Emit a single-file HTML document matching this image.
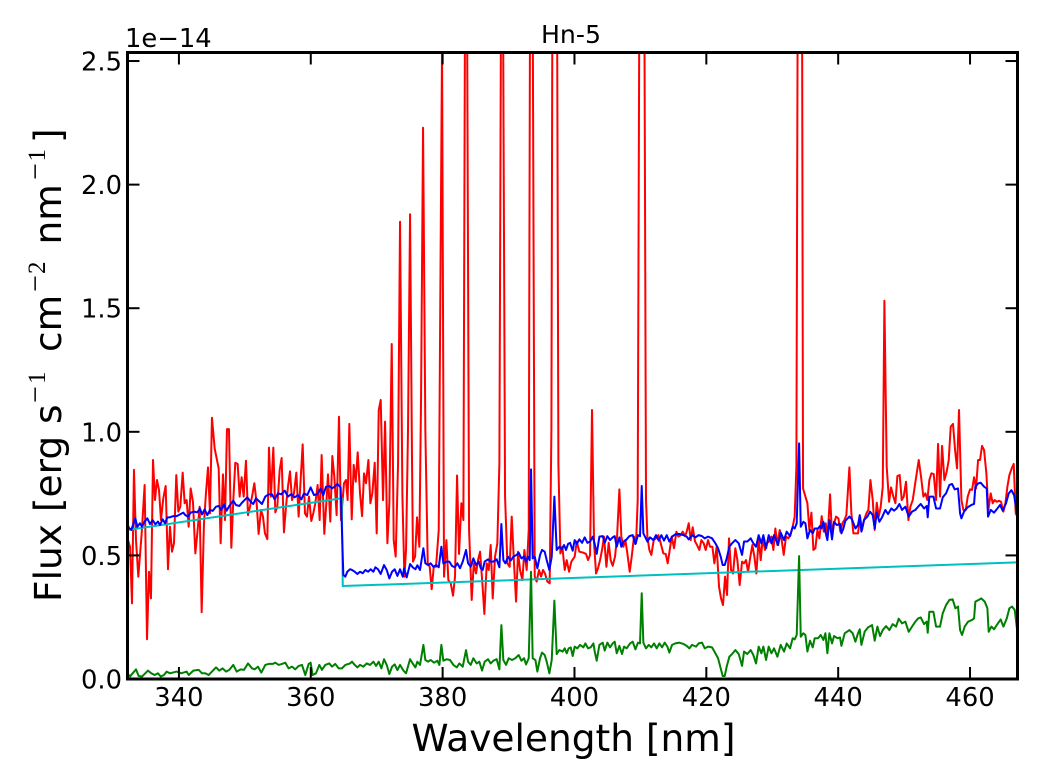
<!DOCTYPE html>
<html lang="en">
<head>
<meta charset="utf-8">
<title>Hn-5 spectrum</title>
<style>
html,body{margin:0;padding:0;background:#fff;}
svg{display:block;font-family:"DejaVu Sans","Liberation Sans",sans-serif;fill:#000;}
.sup{font-family:"Liberation Serif",serif;}
</style>
</head>
<body>
<svg id="chart" width="1040" height="780" viewBox="0 0 1040 780" xmlns="http://www.w3.org/2000/svg">
<defs><clipPath id="plot-clip"><rect x="127.5" y="52.5" width="890" height="626.5"/></clipPath></defs>
<rect x="0" y="0" width="1040" height="780" fill="#fff"/>
<g id="marks" clip-path="url(#plot-clip)"></g>
<g id="ticks"></g>
<rect x="127.5" y="52.5" width="890" height="626.5" fill="none" stroke="#000" stroke-width="3"/>
<text x="571" y="43" font-size="25.2" text-anchor="middle">Hn-5</text>
<text x="125" y="47" font-size="25.8">1e−14</text>
<text x="573.5" y="751" font-size="37.5" text-anchor="middle">Wavelength [nm]</text>
<text transform="translate(61,364) rotate(-90)" font-size="37.5"><tspan x="-238" y="0">Flux [erg s</tspan><tspan class="sup" font-size="30" x="-39" y="-16">−</tspan><tspan class="sup" font-size="25" x="-20" y="-16">1</tspan><tspan x="12" y="0">cm</tspan><tspan class="sup" font-size="30" x="72" y="-16">−</tspan><tspan class="sup" font-size="25" x="90" y="-16">2</tspan><tspan x="119.5" y="0">nm</tspan><tspan class="sup" font-size="30" x="184" y="-16">−</tspan><tspan class="sup" font-size="25" x="202.5" y="-16">1</tspan><tspan x="221" y="0">]</tspan></text>
</svg>
<script>
const xTickValues=[340,360,380,400,420,440,460];
const yTickValues=[0,0.5,1,1.5,2,2.5];
const cyanWave=[332.2,364.7,364.85,467.2];
const cyanFlux=[0.603,0.731,0.376,0.472];
const redWave=[332.2,332.58,332.88,333.18,333.49,333.84,334.35,334.8,335.16,335.46,335.76,336.07,336.37,336.67,336.98,337.28,337.63,337.99,338.34,338.64,338.95,339.25,339.6,339.91,340.21,340.57,340.87,341.17,341.48,341.78,342.13,342.49,342.79,343.14,343.45,343.8,344.1,344.41,344.71,345.01,345.42,346.03,346.33,346.68,346.99,347.29,347.59,347.95,348.25,348.55,348.91,349.21,349.51,349.82,350.17,350.48,350.78,351.13,351.44,351.79,352.09,352.45,352.75,353.05,353.41,353.66,353.96,354.32,354.62,354.92,355.28,355.58,355.93,356.24,356.54,356.85,357.15,357.45,357.81,358.16,358.46,358.77,359.12,359.42,359.73,360.08,360.38,360.69,361.04,361.35,361.65,362.05,362.36,362.61,362.96,363.27,363.57,363.92,364.28,364.58,365.04,365.34,365.59,365.85,
366.21,366.51,366.82,367.12,367.47,367.78,368.08,368.38,368.74,369.04,369.34,369.7,370,370.31,370.61,370.96,371.27,371.62,371.92,372.28,372.58,372.88,373.24,373.54,373.9,374.2,374.45,374.75,375.06,375.36,375.51,375.82,376.12,376.47,376.73,377.03,377.38,377.74,378.04,378.34,378.65,379,379.41,379.91,380.21,380.57,380.87,381.23,381.58,381.88,382.19,382.49,382.84,383.15,383.4,383.7,384.01,384.41,384.72,385.07,385.37,385.68,386.03,386.33,386.69,386.99,387.29,387.6,387.95,388.3,388.61,388.86,389.16,389.47,389.82,390.17,390.48,390.83,391.14,391.44,391.74,392.1,392.4,392.75,393.06,393.26,393.66,393.97,394.27,394.62,394.93,395.23,395.53,395.89,396.24,396.5,396.65,397.36,397.56,397.86,398.16,398.52,398.82,399.18,
399.53,400.03,400.34,400.74,401.35,401.75,402.06,402.36,402.66,402.97,403.27,403.57,403.88,404.18,404.48,404.84,405.19,405.49,405.8,406.15,406.46,406.81,407.11,407.42,407.72,408.02,408.38,408.68,409.03,409.34,409.59,409.84,410.6,410.85,411.06,411.36,411.66,412.02,412.37,412.73,413.08,413.48,413.84,414.14,414.49,414.75,415.1,415.46,415.76,416.11,416.42,416.77,417.02,417.33,417.63,417.93,418.29,418.59,418.94,419.25,419.6,419.9,420.26,420.56,420.92,421.22,421.57,421.93,422.23,422.53,422.84,423.14,423.44,423.75,424.05,424.4,424.71,425.06,425.42,425.72,426.02,426.33,426.68,426.98,427.29,427.59,427.94,428.25,428.55,428.9,429.21,429.51,429.87,430.17,430.47,430.78,431.13,431.43,431.74,432.09,432.44,432.75,433.1,433.4,433.66,433.86,434.52,
434.67,435.03,435.33,435.63,435.94,436.24,436.54,436.85,437.15,437.5,437.81,438.11,438.41,438.77,439.07,439.37,439.68,440.03,440.33,440.64,440.94,441.24,441.7,442,442.31,442.66,443.01,443.32,443.62,443.92,444.28,444.58,444.89,445.24,445.54,445.85,446.15,446.45,446.76,447.01,447.36,447.72,448.02,448.37,448.68,448.98,449.33,449.64,449.94,450.29,450.65,450.95,451.31,451.61,451.91,452.22,452.57,452.92,453.23,453.53,453.83,454.14,454.49,454.85,455.15,455.45,455.76,456.11,456.46,456.77,457.07,457.42,457.73,458.03,458.33,458.69,458.99,459.35,459.65,460,460.31,460.61,460.91,461.22,461.52,461.82,462.13,462.48,462.78,463.14,463.44,463.74,464.05,464.4,464.7,465.06,465.36,465.67,465.97,466.32,466.63,466.93,467.2];
const redFlux=[0.569,0.535,0.306,0.846,0.562,0.414,0.589,0.785,0.161,0.434,0.326,0.886,0.724,0.805,0.765,0.643,0.731,0.781,0.444,0.616,0.515,0.549,0.825,0.677,0.697,0.835,0.711,0.724,0.616,0.771,0.717,0.508,0.589,0.697,0.27,0.63,0.751,0.856,0.67,1.057,0.933,0.852,0.549,0.828,0.643,1.011,1.011,0.531,0.724,0.875,0.87,0.738,0.816,0.738,0.883,0.663,0.697,0.744,0.792,0.711,0.587,0.684,0.657,0.589,0.566,0.936,0.738,0.936,0.674,0.697,0.845,0.894,0.593,0.697,0.778,0.84,0.724,0.751,0.835,0.657,0.805,0.949,0.67,0.657,0.738,0.639,0.67,0.711,0.785,0.643,0.906,0.587,0.711,0.828,0.637,0.902,0.819,0.663,1.061,0.643,0.792,0.805,0.724,1.032,
0.646,0.866,0.798,0.917,0.751,0.659,0.832,0.792,0.886,0.711,0.751,0.875,0.589,1.088,1.129,0.724,1.041,0.549,0.711,1.355,0.562,0.495,0.872,1.85,0.738,0.414,0.522,1.007,1.88,0.872,0.475,0.495,0.654,0.535,1.142,2.23,1.007,0.468,0.454,0.363,0.454,0.454,0.603,2.558,0.414,0.562,0.4,0.387,0.337,0.414,0.823,0.506,0.711,0.643,2.76,2.76,0.603,0.32,0.468,0.427,0.481,0.515,0.387,0.263,0.468,0.441,0.542,0.326,0.495,0.549,0.872,2.76,2.76,0.738,0.468,0.454,0.657,0.468,0.313,0.515,0.441,0.4,0.522,0.441,0.603,2.76,2.76,0.414,0.394,0.441,0.414,0.441,0.427,0.394,0.387,1.007,2.76,2.76,0.872,0.508,0.535,0.441,0.481,0.434,
0.475,0.495,0.556,0.515,0.511,0.506,0.481,0.502,1.088,0.549,0.427,0.448,0.481,0.522,0.576,0.454,0.551,0.481,0.458,0.495,0.576,0.767,0.576,0.535,0.562,0.508,0.434,0.495,0.576,0.549,0.724,2.76,2.76,0.724,0.576,0.522,0.502,0.562,0.569,0.582,0.549,0.508,0.506,0.468,0.529,0.576,0.529,0.596,0.576,0.582,0.596,0.578,0.596,0.63,0.562,0.614,0.556,0.542,0.522,0.562,0.549,0.522,0.562,0.535,0.535,0.468,0.535,0.373,0.326,0.299,0.414,0.34,0.569,0.441,0.427,0.529,0.481,0.38,0.475,0.468,0.481,0.434,0.495,0.542,0.495,0.427,0.569,0.481,0.569,0.522,0.549,0.556,0.576,0.522,0.609,0.542,0.603,0.562,0.502,0.576,0.569,0.582,0.616,0.657,0.859,2.76,2.76,
0.771,0.738,0.711,0.603,0.673,0.522,0.529,0.603,0.569,0.659,0.596,0.63,0.582,0.747,0.576,0.63,0.657,0.65,0.596,0.63,0.643,0.663,0.856,0.67,0.589,0.589,0.589,0.657,0.603,0.643,0.67,0.684,0.805,0.724,0.603,0.713,0.657,0.697,0.778,1.53,0.859,0.717,0.775,0.738,0.711,0.821,0.825,0.724,0.738,0.798,0.643,0.697,0.724,0.778,0.832,0.886,0.818,0.738,0.751,0.724,0.805,0.832,0.829,0.724,0.951,0.738,0.943,0.805,0.839,0.886,1.021,1.032,0.926,0.852,1.088,0.724,0.684,0.684,0.738,0.767,0.765,0.816,0.771,0.886,0.886,0.943,0.926,0.832,0.684,0.751,0.711,0.724,0.717,0.721,0.717,0.677,0.711,0.778,0.825,0.852,0.87,0.67,0.655];
const blueWave=[332.2,332.48,332.78,333.08,333.39,333.69,334.09,334.4,334.8,335.21,335.61,336.02,336.42,336.82,337.13,337.53,337.89,338.24,338.64,339.15,339.66,340.16,340.67,340.97,341.37,341.78,342.28,342.79,343.19,343.5,343.9,344.31,344.71,345.12,345.62,346.03,346.43,346.83,347.24,347.64,348.25,348.65,349.16,349.56,350.37,350.88,351.28,351.69,352.09,352.6,353.1,353.61,354.12,354.52,355.03,355.53,356.04,356.54,357.05,357.55,358.06,358.57,358.97,359.47,359.98,360.49,360.99,361.5,361.9,362.31,362.81,363.22,363.62,364.03,364.53,364.68,364.94,365.24,365.54,365.95,
366.26,366.66,367.07,367.47,367.88,368.28,368.69,369.09,369.5,369.8,370.2,370.61,371.11,371.52,371.92,372.33,372.73,373.14,373.54,373.95,374.15,374.55,375.06,375.46,375.87,376.17,376.57,377.08,377.38,377.79,378.19,378.6,379,379.41,379.81,380.11,380.62,381.02,381.43,381.83,382.24,382.64,383.05,383.55,383.86,384.26,384.66,385.07,385.47,385.78,386.08,386.38,386.89,387.29,387.7,388.2,388.61,388.91,389.21,389.52,389.92,390.33,390.73,391.24,391.54,391.95,392.35,392.65,392.96,393.21,393.41,393.66,393.97,394.37,394.78,395.08,395.48,395.79,396.19,396.55,396.95,397.3,397.71,
398.11,398.42,398.72,399.02,399.33,399.73,400.03,400.34,400.74,401.15,401.55,401.96,402.36,402.77,403.07,403.37,403.78,404.28,404.59,404.99,405.39,405.8,406.1,406.41,406.81,407.11,407.42,407.82,408.33,408.83,409.24,409.64,409.94,410.2,410.45,410.75,411.06,411.46,411.97,412.37,412.78,413.18,413.58,413.99,414.39,414.8,415.3,415.91,416.52,417.02,417.33,417.83,418.34,418.84,419.35,419.75,420.26,420.87,421.37,421.78,422.18,422.48,422.79,423.09,423.49,423.9,424.4,424.91,425.42,425.72,426.22,426.73,427.13,427.54,427.94,428.35,428.65,429.06,429.46,429.87,430.27,430.88,431.28,431.79,432.19,432.7,433.1,433.4,433.71,434.07,
434.32,434.72,435.03,435.33,435.73,436.14,436.44,436.95,437.25,437.45,437.76,438.06,438.36,438.67,439.07,439.37,439.78,440.28,440.49,440.79,441.09,441.7,442.1,442.61,443.01,443.27,443.52,443.92,444.43,444.83,445.24,445.54,445.85,446.25,446.65,447.16,447.56,448.07,448.47,448.88,449.28,449.69,450.19,450.7,451.2,451.71,452.12,452.52,453.03,453.43,453.58,453.83,454.44,454.85,455.45,455.86,456.36,456.87,457.27,457.68,458.18,458.49,458.69,459.09,459.6,460.2,460.61,460.81,461.22,461.62,462.13,462.53,462.73,463.14,463.64,464.15,464.55,464.96,465.46,465.87,466.27,466.68,467.2];
const blueFlux=[0.623,0.61,0.603,0.627,0.65,0.616,0.63,0.616,0.637,0.65,0.627,0.643,0.626,0.637,0.623,0.646,0.63,0.654,0.654,0.659,0.659,0.666,0.673,0.663,0.657,0.673,0.677,0.674,0.69,0.666,0.686,0.663,0.684,0.68,0.697,0.7,0.684,0.707,0.681,0.7,0.721,0.704,0.7,0.713,0.735,0.717,0.708,0.731,0.721,0.708,0.738,0.747,0.747,0.727,0.751,0.747,0.762,0.738,0.748,0.735,0.744,0.727,0.751,0.744,0.775,0.744,0.748,0.771,0.744,0.778,0.781,0.771,0.778,0.789,0.775,0.643,0.421,0.414,0.434,0.444,
0.441,0.434,0.425,0.434,0.428,0.441,0.434,0.444,0.434,0.452,0.444,0.425,0.461,0.441,0.407,0.434,0.444,0.417,0.444,0.414,0.448,0.411,0.465,0.452,0.444,0.46,0.441,0.529,0.468,0.461,0.468,0.454,0.461,0.452,0.535,0.468,0.475,0.475,0.457,0.452,0.468,0.448,0.475,0.522,0.468,0.454,0.488,0.461,0.475,0.448,0.441,0.475,0.484,0.475,0.475,0.484,0.452,0.627,0.481,0.468,0.495,0.479,0.495,0.502,0.511,0.488,0.495,0.475,0.495,0.481,0.848,0.488,0.495,0.448,0.502,0.522,0.515,0.481,0.441,0.495,0.738,0.522,0.535,
0.525,0.542,0.522,0.546,0.551,0.519,0.562,0.546,0.565,0.551,0.573,0.551,0.556,0.576,0.546,0.506,0.576,0.578,0.551,0.578,0.562,0.573,0.578,0.535,0.573,0.535,0.556,0.562,0.578,0.582,0.546,0.582,0.578,0.781,0.589,0.573,0.556,0.573,0.562,0.582,0.56,0.582,0.56,0.582,0.556,0.576,0.585,0.587,0.582,0.576,0.565,0.582,0.573,0.582,0.578,0.569,0.576,0.569,0.549,0.529,0.495,0.461,0.461,0.488,0.535,0.549,0.562,0.549,0.502,0.556,0.556,0.569,0.549,0.535,0.582,0.549,0.582,0.529,0.582,0.549,0.582,0.542,0.592,0.562,0.596,0.578,0.616,0.609,0.63,0.953,
0.616,0.636,0.63,0.569,0.603,0.589,0.609,0.609,0.619,0.609,0.636,0.596,0.562,0.643,0.565,0.636,0.623,0.627,0.589,0.609,0.64,0.657,0.646,0.609,0.623,0.663,0.596,0.643,0.657,0.677,0.663,0.609,0.673,0.636,0.654,0.684,0.667,0.69,0.681,0.69,0.708,0.684,0.697,0.657,0.677,0.684,0.697,0.708,0.69,0.7,0.654,0.738,0.738,0.69,0.69,0.735,0.751,0.785,0.789,0.767,0.771,0.67,0.65,0.677,0.694,0.704,0.708,0.778,0.791,0.794,0.778,0.771,0.657,0.684,0.673,0.69,0.704,0.681,0.711,0.751,0.764,0.744,0.655];
const greenWave=[332.2,332.58,332.98,333.49,333.89,334.4,334.9,335.31,335.81,336.32,336.82,337.23,337.73,338.14,338.64,339.66,340.36,341.17,341.48,342.18,342.99,343.5,344,344.51,345.01,345.62,346.13,346.63,347.14,347.64,348.25,348.76,349.36,349.87,350.48,351.08,351.49,351.99,352.5,353.1,353.61,354.22,354.62,355.13,355.63,356.14,356.64,357.15,357.65,358.16,358.67,359.17,359.68,359.98,360.28,360.79,361.3,361.7,362.2,362.81,363.22,363.72,364.23,364.73,365.24,365.95,
366.26,366.66,367.07,367.47,367.98,368.48,368.99,369.5,369.9,370.31,370.71,371.11,371.52,371.92,372.33,372.73,373.14,373.54,374.05,374.45,375.06,375.46,375.87,376.17,376.57,377.08,377.38,377.79,378.19,378.7,379.2,379.51,379.81,380.11,380.62,381.12,381.63,382.14,382.54,383.05,383.55,383.86,384.26,384.66,385.17,385.57,385.98,386.38,386.89,387.29,387.7,388.2,388.61,388.91,389.21,389.62,390.02,390.53,391.03,391.54,391.95,392.35,392.65,393.06,393.41,393.66,394.07,394.37,394.78,395.08,395.48,395.79,396.19,396.55,396.95,397.3,397.71,
398.21,398.52,398.82,399.12,399.43,399.73,400.03,400.44,400.84,401.35,401.65,402.06,402.46,402.87,403.07,403.37,403.78,404.28,404.59,404.99,405.39,405.8,406.1,406.41,406.81,407.21,407.52,407.92,408.43,408.83,409.24,409.64,409.94,410.2,410.45,410.85,411.26,411.66,412.07,412.47,412.88,413.28,413.69,414.09,414.39,414.8,415.3,415.91,416.52,417.02,417.43,417.83,418.44,418.84,419.35,419.75,420.26,420.87,421.37,421.78,422.18,422.48,422.79,423.09,423.49,423.9,424.4,424.91,425.42,425.72,426.22,426.73,427.13,427.54,427.94,428.35,428.65,429.06,429.46,429.87,430.27,430.78,431.28,431.79,432.19,432.7,433.1,433.4,433.71,434.07,
434.32,434.72,435.03,435.33,435.73,436.14,436.44,436.95,437.35,437.76,438.06,438.36,438.67,439.07,439.37,439.88,440.28,440.49,440.99,441.7,442.2,442.61,443.01,443.27,443.52,444.03,444.53,445.14,445.54,445.95,446.35,446.76,447.26,447.77,448.27,448.78,449.18,449.69,450.19,450.7,451.2,451.71,452.12,452.52,453.03,453.43,453.58,453.83,454.44,454.85,455.45,455.86,456.36,456.87,457.37,457.78,458.18,458.49,458.79,459.19,459.7,460.31,460.61,460.81,461.32,461.72,462.23,462.63,462.83,463.24,463.64,464.15,464.65,465.06,465.57,465.97,466.37,466.78,467.2];
const greenFlux=[0.023,0.01,0.023,0.039,0.012,0.01,0.023,0.034,0.023,0.016,0.023,0.01,0.016,0.03,0.023,0.03,0.023,0.03,0.016,0.034,0.037,0.023,0.023,0.016,0.03,0.047,0.034,0.043,0.03,0.037,0.057,0.03,0.039,0.037,0.063,0.043,0.039,0.05,0.026,0.057,0.061,0.061,0.066,0.057,0.061,0.066,0.043,0.05,0.039,0.053,0.057,0.016,0.061,0.066,0.016,0.023,0.057,0.037,0.057,0.063,0.05,0.061,0.043,0.043,0.057,0.063,
0.07,0.057,0.047,0.057,0.05,0.063,0.057,0.07,0.053,0.07,0.043,0.08,0.057,0.02,0.05,0.059,0.036,0.057,0.034,0.023,0.08,0.063,0.047,0.07,0.057,0.138,0.077,0.07,0.077,0.066,0.074,0.057,0.138,0.074,0.08,0.077,0.057,0.047,0.063,0.05,0.117,0.07,0.057,0.084,0.063,0.07,0.034,0.07,0.08,0.063,0.074,0.08,0.039,0.218,0.077,0.057,0.084,0.077,0.084,0.097,0.074,0.084,0.059,0.084,0.434,0.084,0.077,0.03,0.084,0.107,0.097,0.07,0.023,0.077,0.317,0.101,0.117,
0.111,0.124,0.104,0.124,0.128,0.093,0.131,0.124,0.138,0.128,0.144,0.124,0.128,0.144,0.111,0.074,0.138,0.147,0.115,0.147,0.128,0.144,0.151,0.104,0.134,0.101,0.131,0.124,0.144,0.151,0.12,0.147,0.144,0.347,0.147,0.124,0.138,0.128,0.144,0.124,0.144,0.128,0.147,0.131,0.107,0.138,0.144,0.147,0.142,0.134,0.124,0.138,0.131,0.144,0.147,0.124,0.131,0.128,0.104,0.084,0.043,0.012,0.012,0.05,0.09,0.101,0.117,0.101,0.053,0.111,0.101,0.117,0.097,0.063,0.131,0.104,0.131,0.077,0.131,0.104,0.124,0.09,0.138,0.111,0.144,0.124,0.165,0.16,0.178,0.497,
0.171,0.185,0.178,0.111,0.155,0.128,0.165,0.165,0.178,0.158,0.185,0.104,0.185,0.144,0.174,0.165,0.168,0.134,0.185,0.198,0.185,0.151,0.185,0.201,0.138,0.192,0.209,0.218,0.155,0.212,0.174,0.198,0.214,0.198,0.222,0.212,0.244,0.225,0.232,0.191,0.212,0.232,0.245,0.249,0.222,0.232,0.187,0.272,0.272,0.212,0.212,0.266,0.299,0.32,0.322,0.286,0.293,0.198,0.178,0.212,0.232,0.239,0.245,0.313,0.32,0.326,0.313,0.286,0.191,0.212,0.201,0.222,0.241,0.212,0.245,0.286,0.293,0.279,0.185];

const xMin=332.2,xMax=467.2,yMin=0,yMax=2.5345;
const plotLeft=127.5,plotRight=1017.5,plotTop=52.5,plotBottom=679;
function xScale(w){return plotLeft+(w-xMin)/(xMax-xMin)*(plotRight-plotLeft);}
function yScale(f){return plotBottom-(f-yMin)/(yMax-yMin)*(plotBottom-plotTop);}
const NS='http://www.w3.org/2000/svg';
function linePath(wave,flux){
  const n=Math.min(wave.length,flux.length);
  let d='';
  for(let i=0;i<n;i++){d+=(i?'L':'M')+xScale(wave[i]).toFixed(2)+' '+yScale(flux[i]).toFixed(2);}
  return d;
}
const marks=document.getElementById('marks');
function addLine(wave,flux,color){
  const p=document.createElementNS(NS,'path');
  p.setAttribute('d',linePath(wave,flux));
  p.setAttribute('fill','none');
  p.setAttribute('stroke',color);
  p.setAttribute('stroke-width','2');
  p.setAttribute('stroke-linejoin','round');
  marks.appendChild(p);
  return p;
}
const redLine=addLine(redWave,redFlux,'#ff0000');


const cyanLine=addLine(cyanWave,cyanFlux,'#00bfbf');


const greenLine=addLine(greenWave,greenFlux,'#008000');


const blueLine=addLine(blueWave,blueFlux,'#0000ff');



const ticks=document.getElementById('ticks');
function tickLine(x1,y1,x2,y2){
  const l=document.createElementNS(NS,'line');
  l.setAttribute('x1',x1);l.setAttribute('y1',y1);l.setAttribute('x2',x2);l.setAttribute('y2',y2);
  l.setAttribute('stroke','#000');l.setAttribute('stroke-width','2');
  ticks.appendChild(l);
  return l;
}
xTickValues.forEach(function(v){
  const x=xScale(v);
  const b=tickLine(x,plotBottom,x,plotBottom-12);
  
  
  const t=tickLine(x,plotTop,x,plotTop+12);
  
  
  const label=document.createElementNS(NS,'text');
  label.setAttribute('x',x);
  label.setAttribute('y',706);
  label.setAttribute('font-size','25.8');
  label.setAttribute('text-anchor','middle');
  label.textContent=String(v);
  
  
  ticks.appendChild(label);
});
yTickValues.forEach(function(v){
  const y=yScale(v);
  const l=tickLine(plotLeft,y,plotLeft+12,y);
  
  
  const r=tickLine(plotRight,y,plotRight-12,y);
  
  
  const label=document.createElementNS(NS,'text');
  label.setAttribute('x',122);
  label.setAttribute('y',y+9.5);
  label.setAttribute('font-size','25.8');
  label.setAttribute('text-anchor','end');
  label.textContent=v.toFixed(1);
  
  
  ticks.appendChild(label);
});
</script>
</body>
</html>
